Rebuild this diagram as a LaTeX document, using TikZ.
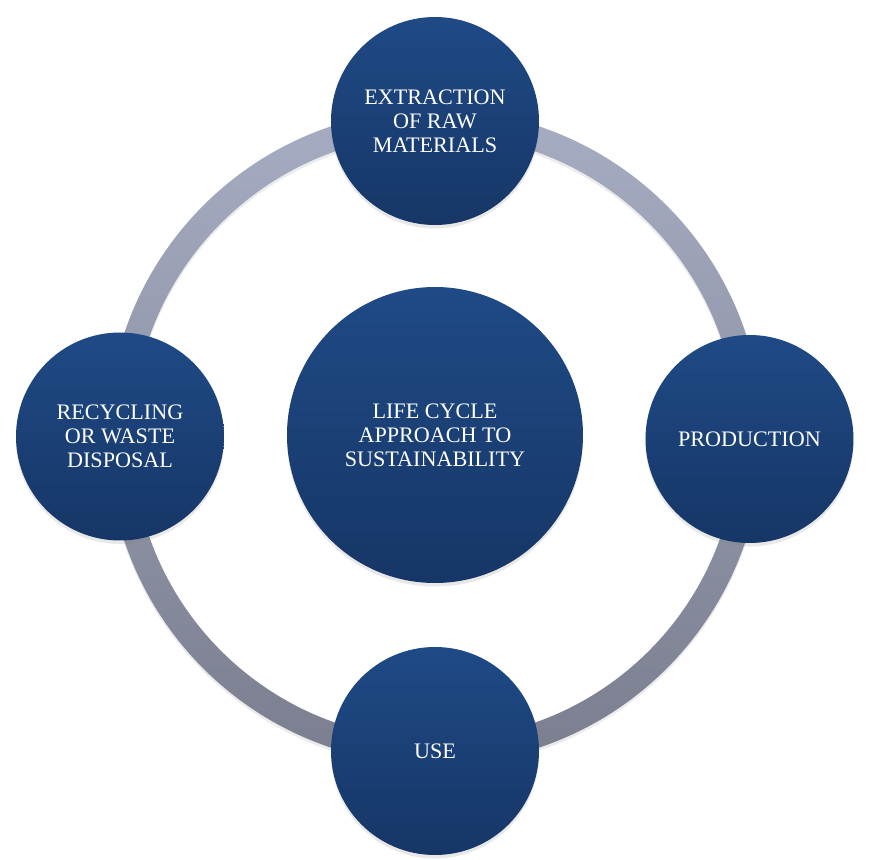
\documentclass[tikz,border=0pt]{standalone}
\usepackage{fontspec}
\setmainfont{Liberation Serif}
\usetikzlibrary{shadows}
\definecolor{phasetop}{RGB}{31,74,134}
\definecolor{phasebot}{RGB}{22,54,102}
\definecolor{ringtop}{RGB}{166,172,194}
\definecolor{ringbot}{RGB}{122,126,142}
\tikzset{
  phase/.style={circle, minimum size=4.16cm, inner sep=0pt, top color=phasetop, bottom color=phasebot,
    text=white, align=center, font=\fontsize{12.6}{13.6}\selectfont,
    drop shadow={opacity=0.18, shadow xshift=0pt, shadow yshift=-2pt}},
  hub/.style={phase, minimum size=5.92cm}
}
\begin{document}
\begin{tikzpicture}
\useasboundingbox (-8.70,-8.46) rectangle (8.78,8.74);
\fill[black, opacity=0.08, even odd rule] (0,-0.06) circle (6.55) circle (6.05);
\shade[top color=ringtop, bottom color=ringbot, even odd rule] (0,0) circle (6.55) circle (6.05);
\node [hub] (hub) at (0,0.04) {LIFE CYCLE\\APPROACH TO\\SUSTAINABILITY};
\node [phase] (extract) at (0,6.32) {EXTRACTION\\OF RAW\\MATERIALS};
\node [phase] (produce) at (6.29,-0.04) {PRODUCTION};
\node [phase] (use) at (0,-6.28) {USE};
\node [phase] (recycle) at (-6.3,0.01) {RECYCLING\\OR WASTE\\DISPOSAL};
\end{tikzpicture}
\end{document}
